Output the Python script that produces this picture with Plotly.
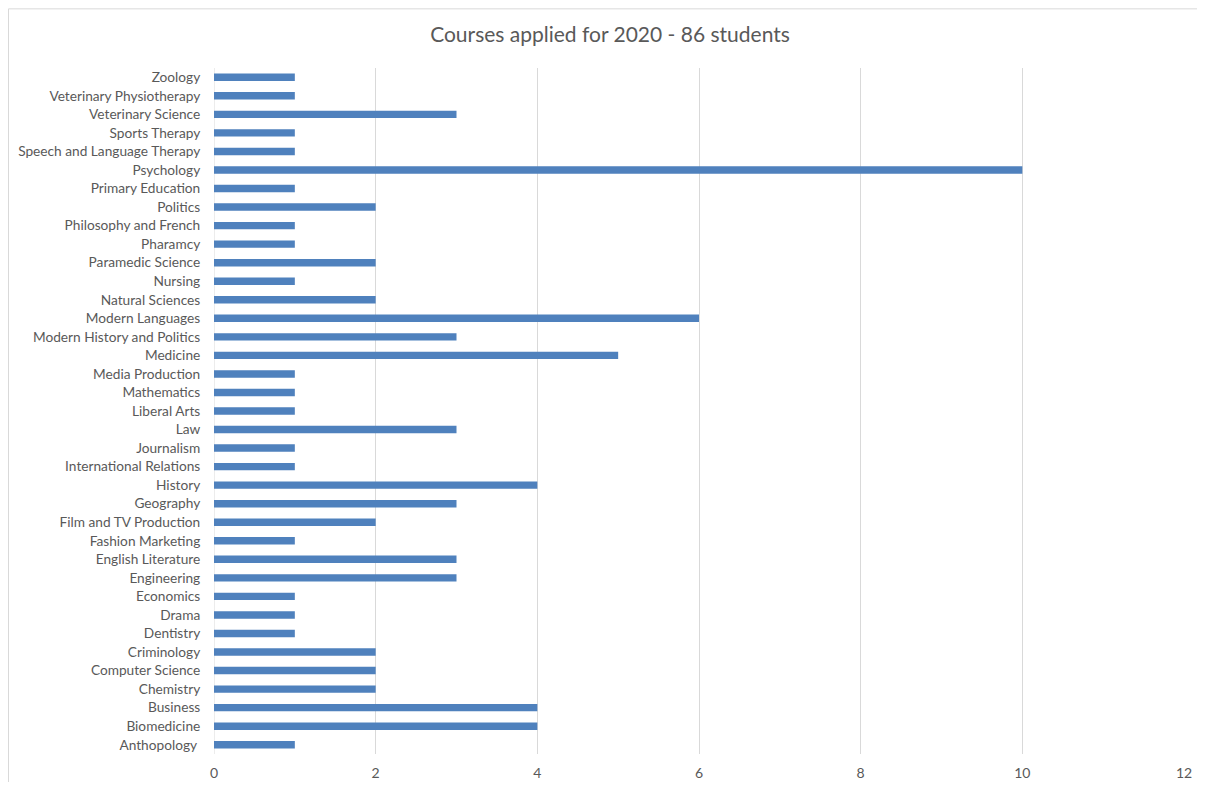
import plotly.graph_objects as go

courses = [
    "Anthopology ", "Biomedicine", "Business", "Chemistry", "Computer Science",
    "Criminology", "Dentistry", "Drama", "Economics", "Engineering",
    "English Literature", "Fashion Marketing", "Film and TV Production", "Geography",
    "History", "International Relations", "Journalism", "Law", "Liberal Arts",
    "Mathematics", "Media Production", "Medicine", "Modern History and Politics",
    "Modern Languages", "Natural Sciences", "Nursing", "Paramedic Science",
    "Pharamcy", "Philosophy and French", "Politics", "Primary Education",
    "Psychology", "Speech and Language Therapy", "Sports Therapy",
    "Veterinary Science", "Veterinary Physiotherapy", "Zoology",
]
counts = [1, 4, 4, 2, 2, 2, 1, 1, 1, 3, 3, 1, 2, 3, 4, 1, 1, 3, 1, 1, 1, 5, 3,
          6, 2, 1, 2, 1, 1, 2, 1, 10, 1, 1, 3, 1, 1]
x_ticks = [0, 2, 4, 6, 8, 10, 12]
title_text = "Courses applied for 2020 - 86 students"

# page body has an 8px margin; figure coordinates = screen coordinates - 8
OFF = 8
W, H = 1205 - 2 * OFF, 790 - 2 * OFF
L, R, T, B = 214 - OFF, 1184 - OFF, 67.7 - OFF, 754.3 - OFF
pw, ph = R - L, B - T

def px(x):
    return (x - L) / pw

def py(y):
    return (B - y) / ph

fig = go.Figure(go.Bar(
    x=counts, y=courses, orientation="h",
    marker=dict(color="#4F81BD", line=dict(width=0)),
    width=0.4, hoverinfo="x+y",
))

font_family = "Lato, 'Open Sans', sans-serif"
fig.update_layout(
    width=W, height=H,
    margin=dict(l=L, r=W - R, t=T, b=H - B, pad=0, autoexpand=False),
    paper_bgcolor="white", plot_bgcolor="white",
    showlegend=False,
    title=dict(text=title_text, x=(610 - OFF) / W, xanchor="center",
               y=1 - (35 - OFF) / H, yanchor="middle", automargin=False,
               font=dict(family=font_family, size=21, color="#595959")),
    xaxis=dict(range=[0, 12], tickvals=x_ticks, showgrid=True, gridcolor="#D9D9D9",
               gridwidth=1, zeroline=False, showline=False, automargin=False,
               ticks="outside", ticklen=6, tickcolor="rgba(0,0,0,0)",
               tickfont=dict(family=font_family, size=14, color="#595959"), fixedrange=True),
    yaxis=dict(type="category", categoryorder="array", categoryarray=courses,
               range=[-0.5, len(courses) - 0.5], showgrid=False, zeroline=False,
               showline=False, automargin=False, ticks="outside", ticklen=10,
               tickcolor="rgba(0,0,0,0)",
               tickfont=dict(family=font_family, size=13.7, color="#595959"), fixedrange=True),
    shapes=[dict(type="rect", xref="paper", yref="paper",
                 x0=px(0.5), x1=px(W + 20), y0=py(H + 20), y1=py(0.5),
                 line=dict(color="#D9D9D9", width=1), fillcolor="rgba(0,0,0,0)",
                 layer="below")],
)
fig.add_shape(type="line", xref="x", yref="paper", x0=0, x1=0, y0=0, y1=1,
              line=dict(color="#D9D9D9", width=1), layer="below")

fig.write_html("out.html")
